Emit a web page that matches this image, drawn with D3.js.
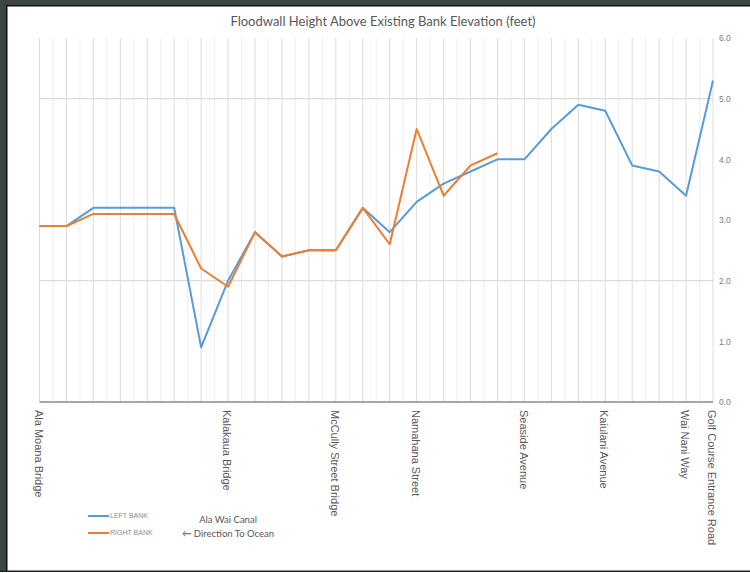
<!DOCTYPE html>
<html>
<head>
<meta charset="utf-8">
<script src="https://cdn.jsdelivr.net/npm/d3@7"></script>
<style>
  body { margin: 0; background: #fff; }
  svg { display: block; }
</style>
</head>
<body>
<div id="vis"></div>
<script>
// category labels along the canal, blank where the source left them blank
const categories = [
  "Ala Moana Bridge", "", "", "", "", "", "", "Kalakaua Bridge", "", "", "",
  "McCully Street Bridge", "", "", "Namahana Street", "", "", "",
  "Seaside Avenue", "", "", "Kaiulani Avenue", "", "", "Wai Nani Way",
  "Golf Course Entrance Road"
];

// floodwall height above bank (feet)
const leftBank = [2.9, 2.9, 3.2, 3.2, 3.2, 3.2, 0.9, 2.0, 2.8, 2.4, 2.5, 2.5, 3.2,
  2.8, 3.3, 3.6, 3.8, 4.0, 4.0, 4.5, 4.9, 4.8, 3.9, 3.8, 3.4, 5.3];
const rightBank = [2.9, 2.9, 3.1, 3.1, 3.1, 3.1, 2.2, 1.9, 2.8, 2.4, 2.5, 2.5, 3.2,
  2.6, 4.5, 3.4, 3.9, 4.1, null, null, null, null, null, null, null, null];

const yTicks = [0, 1, 2, 3, 4, 5, 6];
const yGridTicks = [2, 5];

const width = 750;
const height = 573;
const plot = { left: 39.5, right: 713, top: 38, bottom: 402 };

const svg = d3.select('#vis')
  .append('svg')
  .attr('width', width)
  .attr('height', height);

// screenshot frame: dark strips on top and left, rule at the bottom
svg.append('rect').attr('x', 0).attr('y', 0).attr('width', width).attr('height', 5).attr('fill', '#3b4640');
svg.append('rect').attr('x', 0).attr('y', 0).attr('width', 6).attr('height', 572).attr('fill', '#3b4640');
svg.append('rect').attr('x', 6).attr('y', 5).attr('width', width - 6).attr('height', 1.5).attr('fill', '#111');
svg.append('rect').attr('x', 6).attr('y', 5).attr('width', 1.5).attr('height', 567).attr('fill', '#111');
svg.append('rect').attr('x', 0).attr('y', 570.5).attr('width', width).attr('height', 1.5).attr('fill', '#222');

const x = d3.scalePoint()
  .domain(d3.range(categories.length))
  .range([plot.left, plot.right]);

const y = d3.scaleLinear()
  .domain([0, 6])
  .range([plot.bottom, plot.top]);

const step = x.step();

// minor vertical gridlines halfway between categories
svg.append('g')
  .selectAll('line')
  .data(d3.range(categories.length - 1))
  .enter()
  .append('line')
  .attr('x1', d => x(d) + step / 2)
  .attr('x2', d => x(d) + step / 2)
  .attr('y1', plot.top)
  .attr('y2', plot.bottom)
  .attr('stroke', '#efefef')
  .attr('stroke-width', 1);

// major vertical gridlines at each category
svg.append('g')
  .selectAll('line')
  .data(d3.range(categories.length))
  .enter()
  .append('line')
  .attr('x1', d => x(d))
  .attr('x2', d => x(d))
  .attr('y1', plot.top)
  .attr('y2', plot.bottom)
  .attr('stroke', '#dcdcdc')
  .attr('stroke-width', 1);

// horizontal gridlines
svg.append('g')
  .selectAll('line')
  .data(yGridTicks)
  .enter()
  .append('line')
  .attr('x1', plot.left)
  .attr('x2', plot.right)
  .attr('y1', d => y(d))
  .attr('y2', d => y(d))
  .attr('stroke', '#dcdcdc')
  .attr('stroke-width', 1.3);

// value axis on the right
const yAxis = svg.append('g')
  .attr('transform', `translate(${plot.right},0)`)
  .call(d3.axisRight(y).tickValues(yTicks).tickFormat(d3.format('.1f')).tickSize(0).tickPadding(6));
yAxis.select('.domain').remove();
yAxis.selectAll('text')
  .style('font-family', 'Liberation Sans, Arial, sans-serif')
  .style('font-size', '8.5px')
  .attr('fill', '#808080');

// category axis line
svg.append('line')
  .attr('x1', plot.left)
  .attr('x2', plot.right)
  .attr('y1', plot.bottom)
  .attr('y2', plot.bottom)
  .attr('stroke', '#8a8a8a')
  .attr('stroke-width', 1.3);

// category labels, rotated to read downwards
svg.append('g')
  .selectAll('text')
  .data(categories.map((c, i) => ({ c, i })).filter(d => d.c !== ''))
  .enter()
  .append('text')
  .attr('transform', d => `translate(${x(d.i) - 1},410) rotate(90)`)
  .attr('dy', '0.35em')
  .style('text-anchor', 'start')
  .style('font-family', 'Liberation Sans, Arial, sans-serif')
  .style('font-size', '11px')
  .attr('fill', '#595959')
  .text(d => d.c);

const line = d3.line()
  .defined(d => d != null)
  .x((d, i) => x(i))
  .y(d => y(d));

svg.append('path')
  .datum(leftBank)
  .attr('d', line)
  .attr('fill', 'none')
  .attr('stroke', '#5b9bd5')
  .attr('stroke-width', 2)
  .attr('stroke-linejoin', 'round');

svg.append('path')
  .datum(rightBank)
  .attr('d', line)
  .attr('fill', 'none')
  .attr('stroke', '#ed7d31')
  .attr('stroke-width', 2)
  .attr('stroke-linejoin', 'round');

// title
svg.append('text')
  .attr('x', 383)
  .attr('y', 26)
  .style('text-anchor', 'middle')
  .style('font-family', 'Lato, sans-serif')
  .style('font-size', '13px')
  .attr('fill', '#595959')
  .text('Floodwall Height Above Existing Bank Elevation (feet)');

// legend
const legend = [
  { name: 'LEFT BANK', colour: '#5b9bd5', y: 516 },
  { name: 'RIGHT BANK', colour: '#ed7d31', y: 533 }
];
const lg = svg.append('g');
lg.selectAll('line')
  .data(legend)
  .enter()
  .append('line')
  .attr('x1', 88).attr('x2', 109)
  .attr('y1', d => d.y).attr('y2', d => d.y)
  .attr('stroke', d => d.colour)
  .attr('stroke-width', 2);
lg.selectAll('text')
  .data(legend)
  .enter()
  .append('text')
  .attr('x', 110)
  .attr('y', d => d.y)
  .attr('dy', '0.35em')
  .style('font-family', 'Liberation Sans, Arial, sans-serif')
  .style('font-size', '7px')
  .attr('fill', '#8c8c8c')
  .text(d => d.name);

svg.append('text')
  .attr('x', 228)
  .attr('y', 523)
  .style('text-anchor', 'middle')
  .style('font-family', 'Lato, sans-serif')
  .style('font-size', '9.5px')
  .attr('fill', '#595959')
  .text('Ala Wai Canal');

svg.append('text')
  .attr('x', 228)
  .attr('y', 537)
  .style('text-anchor', 'middle')
  .style('font-family', 'Lato, sans-serif')
  .style('font-size', '9.5px')
  .attr('fill', '#595959')
  .text('\u2190 Direction To Ocean');
</script>
</body>
</html>
